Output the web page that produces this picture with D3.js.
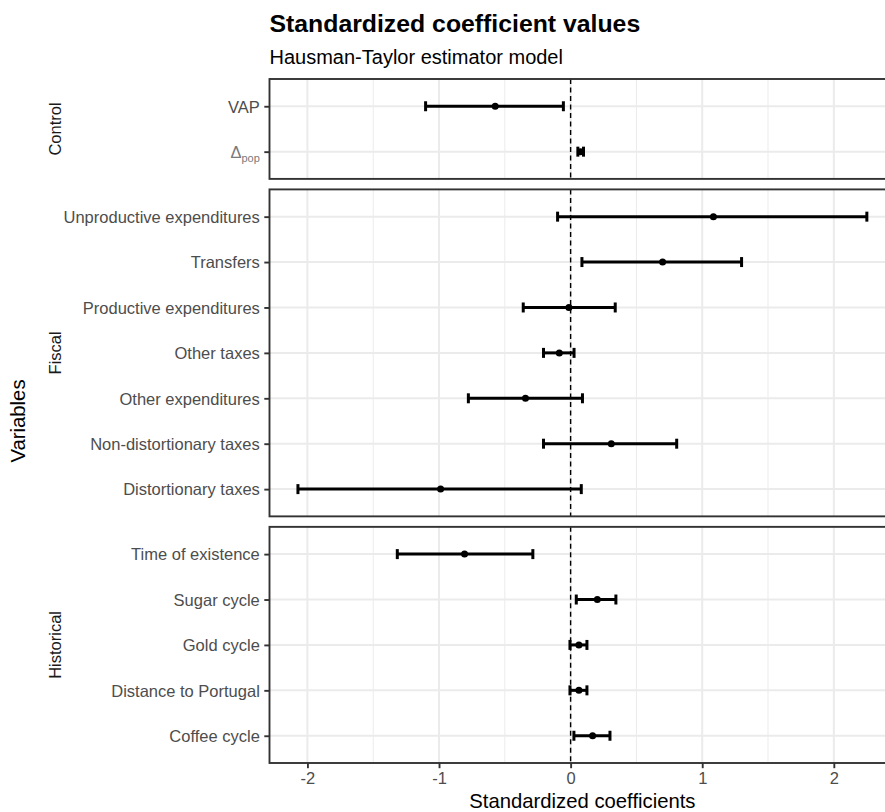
<!DOCTYPE html>
<html>
<head>
<meta charset="utf-8">
<script src="https://cdn.jsdelivr.net/npm/d3@7/dist/d3.min.js"></script>
<style>
  html, body { margin: 0; padding: 0; background: #fff; }
  svg { display: block; font-family: "Liberation Sans", Arial, sans-serif; }
</style>
</head>
<body>
<svg id="chart" width="885" height="812"></svg>
<script>
// ---------------- data ----------------
const groups = ["Control", "Fiscal", "Historical"];
const variables = [
  "VAP", "Δpop",
  "Unproductive expenditures", "Transfers", "Productive expenditures", "Other taxes",
  "Other expenditures", "Non-distortionary taxes", "Distortionary taxes",
  "Time of existence", "Sugar cycle", "Gold cycle", "Distance to Portugal", "Coffee cycle"
];
const variableGroup = [
  "Control", "Control",
  "Fiscal", "Fiscal", "Fiscal", "Fiscal", "Fiscal", "Fiscal", "Fiscal",
  "Historical", "Historical", "Historical", "Historical", "Historical"
];
const estimate = [-0.573, 0.075, 1.085, 0.699, -0.013, -0.086, -0.343, 0.309, -0.988, -0.806, 0.203, 0.063, 0.063, 0.167];
const lower    = [-1.102, 0.055, -0.099, 0.086, -0.360, -0.206, -0.777, -0.206, -2.072, -1.317, 0.043, -0.005, -0.005, 0.025];
const upper    = [-0.055, 0.098, 2.251, 1.299, 0.339, 0.026, 0.090, 0.806, 0.081, -0.287, 0.344, 0.124, 0.124, 0.299];
const xTicks = [-2, -1, 0, 1, 2];
const xMinor = [-1.5, -0.5, 0.5, 1.5];
const titleText = "Standardized coefficient values";
const subtitleText = "Hausman-Taylor estimator model";
const xTitle = "Standardized coefficients";
const yTitle = "Variables";

const rows = variables.map((v, i) => ({ v, g: variableGroup[i], est: estimate[i], lo: lower[i], hi: upper[i] }));

// ---------------- layout ----------------
const svg = d3.select("#chart");
const panelLeft = 269.5, unitPx = 131.6;
const panelTop = 79, panelBottom = 763, gap = 10.5;
const exp = 0.6;

const xmin = d3.min(lower), xmax = d3.max(upper);
const pad = (xmax - xmin) * 0.05;
const x = d3.scaleLinear()
  .domain([xmin - pad, xmax + pad])
  .range([panelLeft, panelLeft + (xmax - xmin + 2 * pad) * unitPx]);
const panelRight = x.range()[1];

const counts = groups.map(g => rows.filter(r => r.g === g).length);
const units = counts.map(c => c - 1 + 2 * exp);
const rowPx = (panelBottom - panelTop - gap * (groups.length - 1)) / d3.sum(units);

let cursor = panelTop;
const panels = groups.map((g, i) => {
  const h = units[i] * rowPx;
  const p = { g, top: cursor, bottom: cursor + h, rows: rows.filter(r => r.g === g) };
  p.y = d3.scalePoint().domain(p.rows.map(r => r.v)).range([p.top, p.bottom]).padding(exp);
  cursor += h + gap;
  return p;
});

const axisColor = "#333333";
const textColor = "#4D4D4D";
const gridColor = "#EBEBEB";

// ---------------- panels ----------------
panels.forEach(p => {
  const gp = svg.append("g");
  gp.append("rect").attr("x", panelLeft).attr("y", p.top)
    .attr("width", panelRight - panelLeft).attr("height", p.bottom - p.top).attr("fill", "#fff");
  gp.selectAll(".minor").data(xMinor).join("line")
    .attr("x1", d => x(d)).attr("x2", d => x(d)).attr("y1", p.top).attr("y2", p.bottom)
    .attr("stroke", gridColor).attr("stroke-width", 1);
  gp.selectAll(".majorx").data(xTicks).join("line")
    .attr("x1", d => x(d)).attr("x2", d => x(d)).attr("y1", p.top).attr("y2", p.bottom)
    .attr("stroke", gridColor).attr("stroke-width", 2);
  gp.selectAll(".majory").data(p.rows).join("line")
    .attr("x1", panelLeft).attr("x2", panelRight).attr("y1", d => p.y(d.v)).attr("y2", d => p.y(d.v))
    .attr("stroke", gridColor).attr("stroke-width", 2);
  gp.append("line").attr("x1", x(0)).attr("x2", x(0)).attr("y1", p.top).attr("y2", p.bottom)
    .attr("stroke", "#000").attr("stroke-width", 1.4).attr("stroke-dasharray", "5,3.5");
  const capH = 0.22 * rowPx / 2;
  const lw = 3;
  const eb = gp.selectAll(".eb").data(p.rows).join("g");
  eb.append("line").attr("x1", d => x(d.lo)).attr("x2", d => x(d.hi))
    .attr("y1", d => p.y(d.v)).attr("y2", d => p.y(d.v))
    .attr("stroke", "#000").attr("stroke-width", lw);
  eb.append("line").attr("x1", d => x(d.lo)).attr("x2", d => x(d.lo))
    .attr("y1", d => p.y(d.v) - capH).attr("y2", d => p.y(d.v) + capH)
    .attr("stroke", "#000").attr("stroke-width", lw);
  eb.append("line").attr("x1", d => x(d.hi)).attr("x2", d => x(d.hi))
    .attr("y1", d => p.y(d.v) - capH).attr("y2", d => p.y(d.v) + capH)
    .attr("stroke", "#000").attr("stroke-width", lw);
  eb.append("circle").attr("cx", d => x(d.est)).attr("cy", d => p.y(d.v)).attr("r", 3.5).attr("fill", "#000");
  gp.append("rect").attr("x", panelLeft).attr("y", p.top)
    .attr("width", panelRight - panelLeft).attr("height", p.bottom - p.top)
    .attr("fill", "none").attr("stroke", axisColor).attr("stroke-width", 1.9);

  const ya = svg.append("g").attr("transform", `translate(${panelLeft},0)`)
    .call(d3.axisLeft(p.y).tickSize(5.2).tickPadding(4.5).tickFormat(() => ""));
  ya.select(".domain").remove();
  ya.selectAll(".tick line").attr("stroke", axisColor).attr("stroke-width", 1.9);
  ya.selectAll(".tick text").each(function(d) {
    const t = d3.select(this).attr("fill", textColor).attr("font-size", 16.5).attr("dy", "0.35em");
    if (d === "Δpop") {
      t.append("tspan").text("Δ");
      t.append("tspan").text("pop").attr("font-size", 11).attr("dy", "0.35em");
      t.attr("fill", "#7a7a7a");
    } else {
      t.text(d);
    }
  });

  svg.append("text")
    .attr("transform", `translate(61,${(p.top + p.bottom) / 2}) rotate(-90)`)
    .attr("text-anchor", "middle").attr("font-size", 16.5).attr("fill", "#1A1A1A")
    .text(p.g);
});

// ---------------- x axis ----------------
const xa = svg.append("g").attr("transform", `translate(0,${panelBottom})`)
  .call(d3.axisBottom(x).tickValues(xTicks).tickSize(5.2).tickPadding(4.5).tickFormat(d => String(d).replace("−", "-")));
xa.select(".domain").remove();
xa.selectAll(".tick line").attr("stroke", axisColor).attr("stroke-width", 1.9);
xa.selectAll(".tick text").attr("fill", textColor).attr("font-size", 16.5).attr("font-family", "Liberation Sans, Arial, sans-serif");

// ---------------- titles ----------------
svg.append("text").attr("x", panelLeft).attr("y", 32)
  .attr("font-size", 24.8).attr("font-weight", "bold").attr("fill", "#000").text(titleText);
svg.append("text").attr("x", panelLeft).attr("y", 64)
  .attr("font-size", 20).attr("fill", "#000").text(subtitleText);
svg.append("text").attr("x", (panelLeft + panelRight) / 2).attr("y", 808)
  .attr("text-anchor", "middle").attr("font-size", 20.3).attr("fill", "#000").text(xTitle);
svg.append("text")
  .attr("transform", `translate(25,${(panelTop + panelBottom) / 2}) rotate(-90)`)
  .attr("text-anchor", "middle").attr("font-size", 20.3).attr("fill", "#000").text(yTitle);
</script>
</body>
</html>
